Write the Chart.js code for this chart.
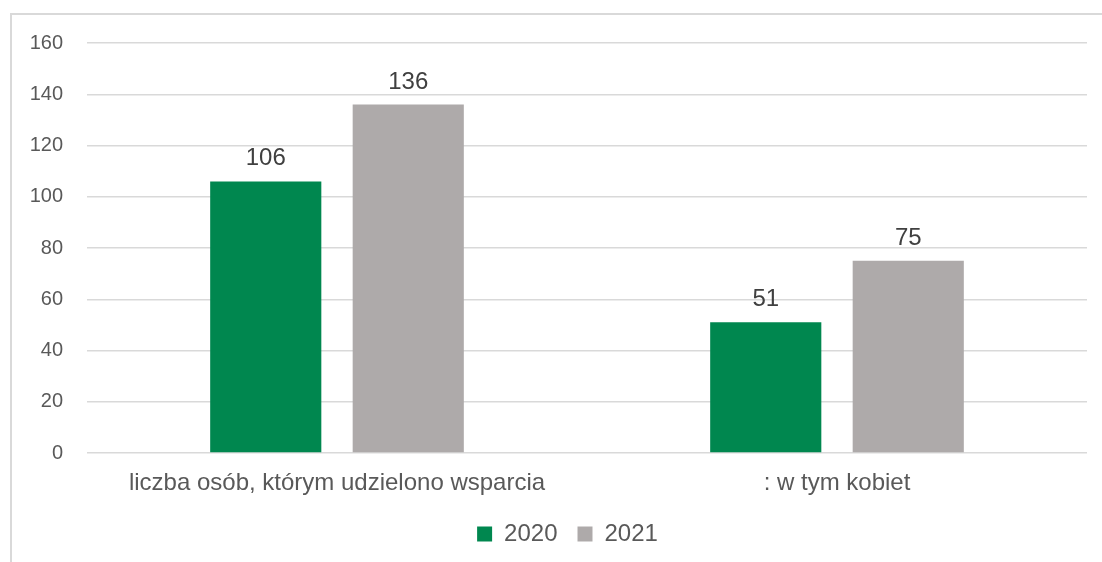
<!DOCTYPE html>
<html>
<head>
<meta charset="utf-8">
<script src="https://cdn.jsdelivr.net/npm/chart.js@4"></script>
<style>
  html, body { margin: 0; padding: 0; background: #fff; }
  #frame {
    position: absolute; left: 10px; top: 13px; width: 1200px; height: 700px;
    border-top: 2px solid #d9d9d9; border-left: 2px solid #d9d9d9;
  }
  #wrap { position: absolute; left: 0; top: 0; width: 1102px; height: 562px; }
</style>
</head>
<body>
<div id="frame"></div>
<div id="wrap"><canvas id="chart"></canvas></div>
<script>
// categories and values
const categories = ["liczba osób, którym udzielono wsparcia", ": w tym kobiet"];
const years = ["2020", "2021"];
const values2020 = [106, 51];
const values2021 = [136, 75];
const barColors = ["#00874F", "#AEAAAA"];

// draws value above every bar
const valueLabels = {
  id: "valueLabels",
  afterDatasetsDraw(chart) {
    const ctx = chart.ctx;
    ctx.save();
    ctx.font = "24px 'Liberation Sans', Arial, sans-serif";
    ctx.fillStyle = "#404040";
    ctx.textAlign = "center";
    ctx.textBaseline = "alphabetic";
    chart.data.datasets.forEach((ds, i) => {
      chart.getDatasetMeta(i).data.forEach((bar, j) => {
        ctx.fillText(ds.data[j], bar.x, bar.y - 16);
      });
    });
    ctx.restore();
  }
};

// legend in the reference is centred on the outer frame, a bit to the right
const legendShift = {
  id: "legendShift",
  afterLayout(chart) {
    if (chart.legend) {
      chart.legend.left += 24;
      chart.legend.right += 24;
    }
  }
};

new Chart(document.getElementById("chart"), {
  type: "bar",
  plugins: [valueLabels, legendShift],
  data: {
    labels: categories,
    datasets: [
      { label: years[0], data: values2020, backgroundColor: barColors[0] },
      { label: years[1], data: values2021, backgroundColor: barColors[1] }
    ]
  },
  options: {
    responsive: true,
    maintainAspectRatio: false,
    animation: false,
    categoryPercentage: 0.57,
    barPercentage: 0.78,
    layout: { padding: { left: 0, right: 15, top: 43, bottom: 6 } },
    plugins: {
      tooltip: { enabled: false },
      legend: {
        position: "bottom",
        labels: {
          boxWidth: 15, boxHeight: 15, padding: 20,
          color: "#595959",
          font: { family: "'Liberation Sans', Arial, sans-serif", size: 24 }
        }
      }
    },
    scales: {
      x: {
        grid: { display: false },
        border: { display: false },
        ticks: {
          color: "#595959", padding: 8,
          font: { family: "'Liberation Sans', Arial, sans-serif", size: 24 }
        },
        afterFit(scale) { scale.height = 49; }
      },
      y: {
        min: 0, max: 160,
        border: { display: false },
        grid: { color: "#d9d9d9", lineWidth: 1.5, drawTicks: false },
        ticks: {
          stepSize: 20, color: "#595959", padding: 24,
          font: { family: "'Liberation Sans', Arial, sans-serif", size: 20 }
        },
        afterFit(scale) { scale.width = 87; }
      }
    }
  }
});
</script>
</body>
</html>
